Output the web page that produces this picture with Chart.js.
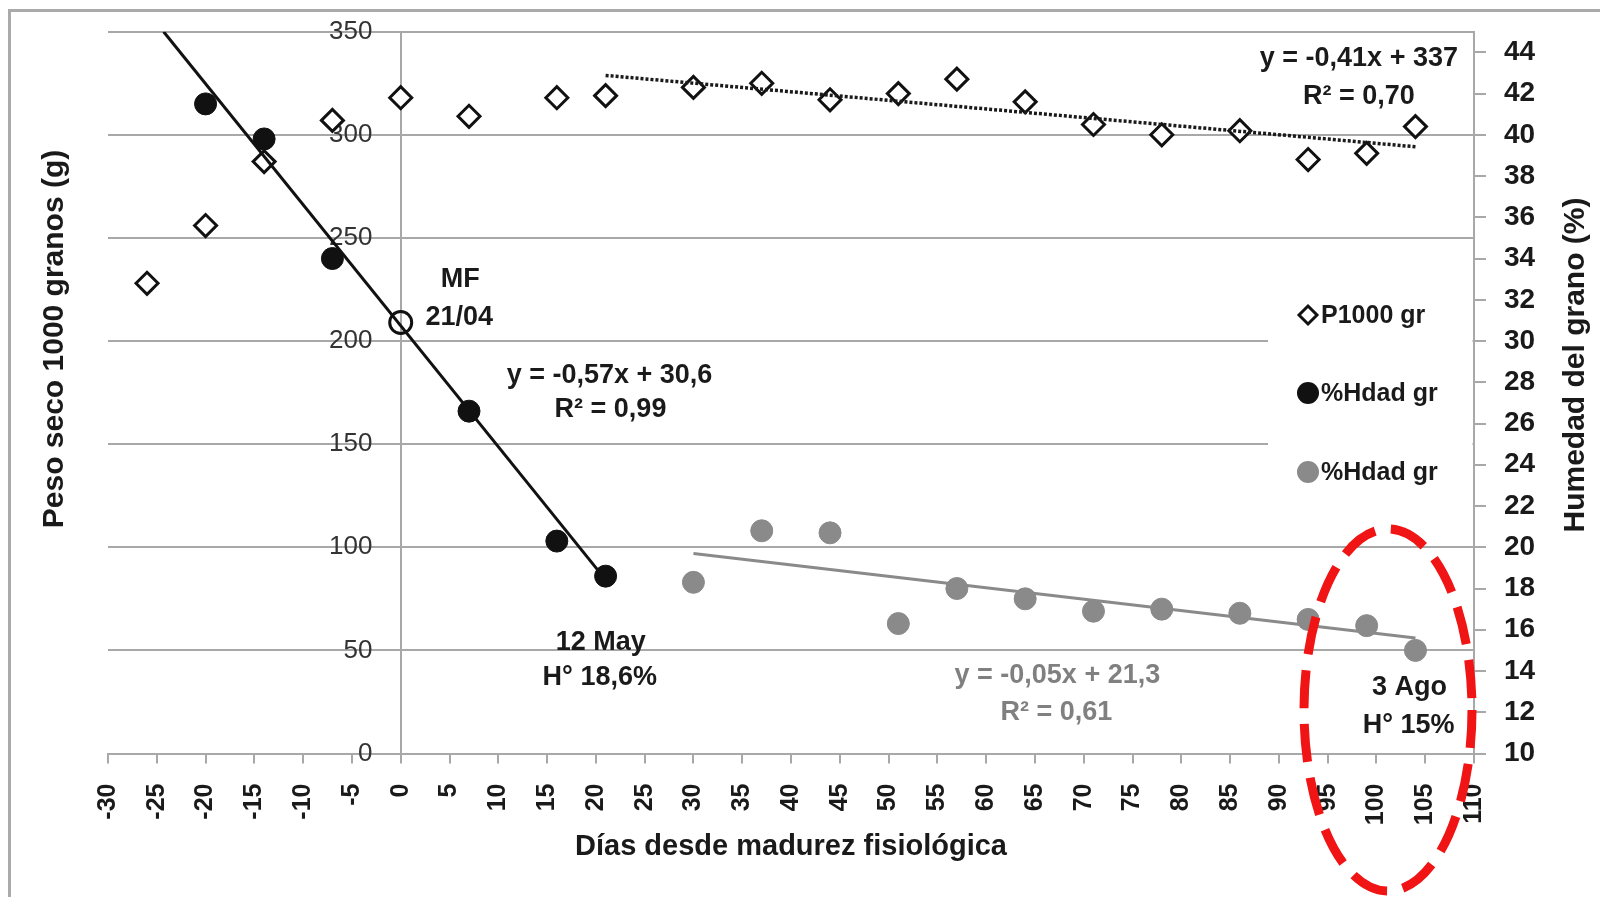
<!DOCTYPE html>
<html>
<head>
<meta charset="utf-8">
<script src="https://cdn.jsdelivr.net/npm/chart.js@4.4.1/dist/chart.umd.min.js"></script>
<style>
html,body{margin:0;padding:0;background:#fff;}
#wrap{width:1600px;height:897px;position:relative;overflow:hidden;}
</style>
</head>
<body>
<div id="wrap"><canvas id="c" width="1600" height="897"></canvas></div>
<script>
// ---- tick labels ----
const xTicks = [-30,-25,-20,-15,-10,-5,0,5,10,15,20,25,30,35,40,45,50,55,60,65,70,75,80,85,90,95,100,105,110];
const yLeftTicks = [0,50,100,150,200,250,300,350];
const yRightTicks = [10,12,14,16,18,20,22,24,26,28,30,32,34,36,38,40,42,44];

// ---- series: P1000 gr (left axis, g) ----
const p1000Days   = [-26,-20,-14,-7,0,7,16,21,30,37,44,51,57,64,71,78,86,93,99,104];
const p1000Values = [228,256,287,307,318,309,318,319,323,325,317,320,327,316,305,300,302,288,291,304];

// ---- series: %Hdad gr (black, right axis, %) ----
const humBlackDays   = [-20,-14,-7,0,7,16,21];
const humBlackValues = [41.5,39.8,34.0,30.9,26.6,20.3,18.6];

// ---- series: %Hdad gr (gray, right axis, %) ----
const humGrayDays   = [30,37,44,51,57,64,71,78,86,93,99,104];
const humGrayValues = [18.3,20.8,20.7,16.3,18.0,17.5,16.9,17.0,16.8,16.5,16.2,15.0];

// ---- trend lines (end points) ----
const trendBlackX = [-24.3, 20.7];
const trendBlackY = [45, 18.6];
const trendGrayX  = [30, 104];
const trendGrayY  = [19.7, 15.6];
const trendP1000X = [21, 104];
const trendP1000Y = [328.8, 294.2];

const seriesNames = ['P1000 gr', '%Hdad gr', '%Hdad gr'];

// ---- annotations (anchored in data coordinates: x days, y right-axis %) ----
const notes = [
  {t:'MF',                 x:6.1,   y:32.62, c:'#1a1a1a'},
  {t:'21/04',              x:6.0,   y:30.78, c:'#1a1a1a'},
  {t:'y = -0,57x + 30,6',  x:21.4,  y:27.97, c:'#1a1a1a'},
  {t:'R\u00B2 = 0,99',     x:21.5,  y:26.32, c:'#1a1a1a'},
  {t:'12 May',             x:20.5,  y:15.02, c:'#1a1a1a'},
  {t:'H\u00B0 18,6%',      x:20.4,  y:13.32, c:'#1a1a1a'},
  {t:'y = -0,05x + 21,3',  x:67.3,  y:13.42, c:'#808080'},
  {t:'R\u00B2 = 0,61',     x:67.2,  y:11.62, c:'#808080'},
  {t:'3 Ago',              x:103.4, y:12.84, c:'#1a1a1a'},
  {t:'H\u00B0 15%',        x:103.3, y:11.0,  c:'#1a1a1a'},
  {t:'y = -0,41x + 337',   x:98.2,  y:43.34, c:'#1a1a1a'},
  {t:'R\u00B2 = 0,70',     x:98.2,  y:41.50, c:'#1a1a1a'}
];

const FAM = '"Liberation Sans", Arial, sans-serif';
const GRID = '#a8a8a8';
const GRAYPT = '#8a8a8a';
const toXY = (xs, ys) => xs.map((x, i) => ({x: x, y: ys[i]}));
const setTicks = arr => (s) => { s.ticks = arr.map(v => ({value: v})); };
const fitV = w => (s) => { s.width = w; s.paddingTop = 0; s.paddingBottom = 0; };

const overlay = {
  id: 'overlay',
  afterDraw(chart) {
    const {ctx, chartArea} = chart;
    const xs = chart.scales.x, yr = chart.scales.yR;
    ctx.save();

    // legend box (white background hides grid lines)
    ctx.fillStyle = '#fff';
    ctx.fillRect(1268, 256, chartArea.right - 1.5 - 1268, 272);
    const ly = [315, 393, 472];
    const lx = 1308;
    ctx.lineWidth = 3; ctx.strokeStyle = '#111'; ctx.fillStyle = '#fff';
    ctx.beginPath();
    ctx.moveTo(lx, ly[0] - 9); ctx.lineTo(lx + 9, ly[0]); ctx.lineTo(lx, ly[0] + 9); ctx.lineTo(lx - 9, ly[0]); ctx.closePath();
    ctx.fill(); ctx.stroke();
    ctx.fillStyle = '#111';
    ctx.beginPath(); ctx.arc(lx, ly[1], 11, 0, Math.PI * 2); ctx.fill();
    ctx.fillStyle = GRAYPT;
    ctx.beginPath(); ctx.arc(lx, ly[2], 11, 0, Math.PI * 2); ctx.fill();
    ctx.font = 'bold 25px ' + FAM;
    ctx.fillStyle = '#1a1a1a';
    ctx.textAlign = 'left'; ctx.textBaseline = 'middle';
    seriesNames.forEach((n, i) => ctx.fillText(n, 1321, ly[i] + 1));

    // annotations
    ctx.font = 'bold 27px ' + FAM;
    ctx.textAlign = 'center'; ctx.textBaseline = 'alphabetic';
    notes.forEach(n => {
      ctx.fillStyle = n.c;
      ctx.fillText(n.t, xs.getPixelForValue(n.x), yr.getPixelForValue(n.y));
    });

    // axis titles
    ctx.fillStyle = '#1a1a1a';
    ctx.font = 'bold 29px ' + FAM;
    ctx.fillText('D\u00EDas desde madurez fisiol\u00F3gica', (chartArea.left + chartArea.right) / 2, 855);
    ctx.font = 'bold 30px ' + FAM;
    ctx.save(); ctx.translate(63, 339); ctx.rotate(-Math.PI / 2);
    ctx.fillText('Peso seco 1000 granos (g)', 0, 0); ctx.restore();
    ctx.save(); ctx.translate(1584, 365); ctx.rotate(-Math.PI / 2);
    ctx.fillText('Humedad del grano (%)', 0, 0); ctx.restore();

    // red dashed ellipse
    ctx.strokeStyle = '#f01414'; ctx.lineWidth = 9; ctx.setLineDash([38, 16]);
    ctx.beginPath(); ctx.ellipse(1388, 710, 84, 181, 0, 0, Math.PI * 2); ctx.stroke();
    ctx.setLineDash([]);

    // outer frame
    ctx.strokeStyle = '#aaaaaa'; ctx.lineWidth = 3;
    ctx.strokeRect(9.5, 10.5, 1700, 1000);
    ctx.restore();
  }
};

new Chart(document.getElementById('c').getContext('2d'), {
  type: 'scatter',
  data: {
    datasets: [
      {label: 'tP', data: toXY(trendP1000X, trendP1000Y), yAxisID: 'yL', showLine: true, pointRadius: 0,
       borderColor: '#1a1a1a', borderWidth: 3.5, borderDash: [3, 2], order: 1},
      {label: 'tB', data: toXY(trendBlackX, trendBlackY), yAxisID: 'yR', showLine: true, pointRadius: 0,
       borderColor: '#111', borderWidth: 3, order: 1},
      {label: 'tG', data: toXY(trendGrayX, trendGrayY), yAxisID: 'yR', showLine: true, pointRadius: 0,
       borderColor: GRAYPT, borderWidth: 3, order: 1},
      {label: seriesNames[0], data: toXY(p1000Days, p1000Values), yAxisID: 'yL',
       pointStyle: 'rectRot', pointRadius: 11, pointBorderWidth: 3, pointBorderColor: '#111', pointBackgroundColor: '#fff', order: 2},
      {label: seriesNames[1], data: toXY(humBlackDays, humBlackValues), yAxisID: 'yR',
       pointStyle: 'circle', pointRadius: 11,
       pointBorderWidth: humBlackDays.map(d => d === 0 ? 3 : 1),
       pointBorderColor: '#111',
       pointBackgroundColor: humBlackDays.map(d => d === 0 ? 'rgba(255,255,255,0)' : '#111'), order: 2},
      {label: seriesNames[2], data: toXY(humGrayDays, humGrayValues), yAxisID: 'yR',
       pointStyle: 'circle', pointRadius: 11, pointBorderWidth: 1, pointBorderColor: GRAYPT, pointBackgroundColor: GRAYPT, order: 2}
    ]
  },
  options: {
    responsive: false,
    animation: false,
    events: [],
    layout: {padding: {left: 108, top: 31.7, right: 0, bottom: 0}},
    plugins: {legend: {display: false}, tooltip: {enabled: false}},
    scales: {
      x: {
        type: 'linear', position: 'bottom', min: -30, max: 110,
        afterBuildTicks: setTicks(xTicks),
        afterFit: s => { s.height = 143.5; },
        grid: {drawOnChartArea: true, drawTicks: true, tickLength: 10, tickColor: GRID, lineWidth: 2,
               color: c => (c.tick && c.tick.value === 0) ? GRID : 'rgba(0,0,0,0)'},
        border: {display: true, color: GRID, width: 2},
        ticks: {autoSkip: false, minRotation: 90, maxRotation: 90, padding: 20,
                font: {family: FAM, size: 25, weight: 'bold'}, color: '#1a1a1a'}
      },
      yL: {
        type: 'linear', position: {x: -2.9}, min: 0, max: 350,
        afterBuildTicks: setTicks(yLeftTicks),
        afterFit: fitV(0),
        grid: {color: GRID, lineWidth: 2, drawTicks: false},
        border: {display: false},
        ticks: {padding: 0, font: {family: FAM, size: 26}, color: '#333'}
      },
      yR: {
        type: 'linear', position: 'right', min: 10, max: 45,
        afterBuildTicks: setTicks(yRightTicks),
        afterFit: fitV(126),
        grid: {drawOnChartArea: false, drawTicks: true, tickLength: 12, tickColor: GRID, lineWidth: 2},
        border: {display: true, color: GRID, width: 2},
        ticks: {padding: 18, font: {family: FAM, size: 28, weight: 'bold'}, color: '#1a1a1a'}
      }
    }
  },
  plugins: [overlay]
});
</script>
</body>
</html>
